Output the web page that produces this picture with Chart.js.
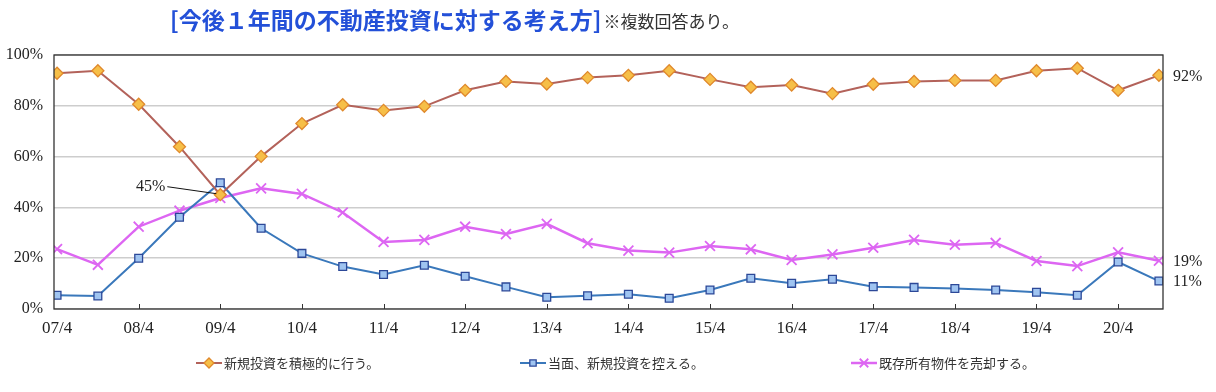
<!DOCTYPE html>
<html><head><meta charset="utf-8">
<script src="https://cdn.jsdelivr.net/npm/chart.js@4"></script>
<style>
html,body{margin:0;padding:0;background:#fff;}
#wrap{position:relative;width:1216px;height:392px;}
canvas{position:absolute;left:0;top:0;}
</style></head>
<body><div id="wrap"><canvas id="c" width="1216" height="392"></canvas></div>
<script>
const periods = ["07/4","07/10","08/4","08/10","09/4","09/10","10/4","10/10","11/4","11/10","12/4","12/10","13/4","13/10","14/4","14/10","15/4","15/10","16/4","16/10","17/4","17/10","18/4","18/10","19/4","19/10","20/4","20/10"];
const tickLabels = ["07/4","08/4","09/4","10/4","11/4","12/4","13/4","14/4","15/4","16/4","17/4","18/4","19/4","20/4"];
const seriesNames = ["新規投資を積極的に行う。","当面、新規投資を控える。","既存所有物件を売却する。"];
const activeInvest = [92.8,93.8,80.6,63.9,45,60.1,73,80.4,78.2,79.8,86.1,89.6,88.6,91.1,92,93.8,90.4,87.3,88.2,84.8,88.5,89.6,90,90,93.8,94.8,86.1,92];
const holdOff = [5.4,5.1,20,36.1,49.7,31.8,21.9,16.7,13.6,17.2,12.9,8.7,4.6,5.2,5.8,4.2,7.5,12.1,10.1,11.7,8.8,8.5,8.1,7.5,6.6,5.4,18.5,11];
const sellOwned = [23.6,17.4,32.4,38.7,43.7,47.5,45.3,38,26.4,27.2,32.4,29.5,33.5,25.9,23,22.2,24.8,23.5,19.3,21.5,24.1,27.2,25.3,26,18.9,16.9,22.3,19];
const yTicks = [0,20,40,60,80,100];
const titleMain = "[今後１年間の不動産投資に対する考え方]";
const titleNote = "※複数回答あり。";
const calloutLabel = "45%";
const endLabels = ["92%","11%","19%"];

const SERIF = '"Liberation Serif","Noto Sans CJK JP",serif';
const JP = '"Noto Sans CJK JP","Liberation Serif",serif';

const styles = [
  {line:'#b3625a', fill:'#f6bf48', border:'#e0892c', ps:'rectRot', r:6, lw:2},
  {line:'#3a78bb', fill:'#9fc4f1', border:'#2c4898', ps:'rect', r:5.5, lw:2},
  {line:'#dd66f2', fill:'#dd66f2', border:'#dd66f2', ps:'crossRot', r:7, lw:2.5}
];
const seriesData = [activeInvest, holdOff, sellOwned];

const datasets = seriesData.map((arr,k)=>({
  label: seriesNames[k],
  data: arr.map((v,i)=>({x:i,y:v})),
  borderColor: styles[k].line,
  borderWidth: styles[k].lw,
  backgroundColor: styles[k].fill,
  pointStyle: styles[k].ps,
  pointRadius: styles[k].r,
  pointBackgroundColor: styles[k].fill,
  pointBorderColor: styles[k].border,
  pointBorderWidth: k===2?1.8:1.3,
  tension: 0
}));

function drawMarker(ctx, k, x, y){
  const s = styles[k];
  ctx.save();
  ctx.strokeStyle = s.line; ctx.lineWidth = s.lw;
  ctx.beginPath(); ctx.moveTo(x-13,y); ctx.lineTo(x+13,y); ctx.stroke();
  ctx.fillStyle = s.fill; ctx.strokeStyle = s.border; ctx.lineWidth = k===2?1.8:1.3;
  Chart.helpers.drawPoint(ctx, {pointStyle:s.ps, radius:s.r-1, borderWidth:k===2?1.8:1.3}, x, y);
  ctx.restore();
}

const overlay = {
  id:'overlay',
  afterDatasetsDraw(chart){
    const ctx = chart.ctx, a = chart.chartArea, xs = chart.scales.x, ys = chart.scales.y;
    ctx.save();
    ctx.strokeStyle = '#333'; ctx.lineWidth = 1.3;
    ctx.strokeRect(a.left, a.top, a.right-a.left, a.bottom-a.top);
    ctx.lineWidth = 1; ctx.strokeStyle = '#333';
    for(let i=2;i<periods.length;i+=2){
      const x = Math.round(xs.getPixelForValue(i))+0.5;
      ctx.beginPath(); ctx.moveTo(x,a.bottom); ctx.lineTo(x,a.bottom-5); ctx.stroke();
    }
    const px = xs.getPixelForValue(4), py = ys.getPixelForValue(activeInvest[4]);
    ctx.font = '16px '+SERIF; ctx.fillStyle = '#222'; ctx.textBaseline='middle'; ctx.textAlign='right';
    ctx.fillText(calloutLabel, px-55, py-8);
    ctx.strokeStyle='#111'; ctx.lineWidth=1;
    ctx.beginPath(); ctx.moveTo(px-53, py-8); ctx.lineTo(px-4, py-1); ctx.stroke();
    ctx.textAlign='left';
    const last = periods.length-1;
    const ends = [activeInvest[last], holdOff[last], sellOwned[last]];
    ends.forEach((v,k)=>{
      ctx.fillText(endLabels[k], a.right+10, ys.getPixelForValue(v)+1);
    });
    ctx.textBaseline='alphabetic';
    ctx.font = 'bold 23px '+JP; ctx.fillStyle='#2350d8'; ctx.textAlign='left';
    ctx.fillText(titleMain, 170, 29);
    const w = ctx.measureText(titleMain).width;
    ctx.font = '17px '+JP; ctx.fillStyle='#333';
    ctx.fillText(titleNote, 170+w+2, 28);
    const legX = [209, 533, 864];
    const legY = 363;
    ctx.font = '13px '+JP; ctx.textBaseline='middle';
    seriesNames.forEach((n,k)=>{
      drawMarker(ctx,k,legX[k],legY);
      ctx.fillStyle='#333';
      ctx.fillText(n, legX[k]+15, legY);
    });
    ctx.restore();
  }
};

new Chart(document.getElementById('c'), {
  type:'line',
  data:{datasets},
  options:{
    responsive:false, animation:false,
    layout:{padding:{top:55,right:53,left:0,bottom:0}},
    plugins:{legend:{display:false}, tooltip:{enabled:false}},
    scales:{
      x:{type:'linear', min:-0.075, max:27.1,
        afterBuildTicks(s){ s.ticks = tickLabels.map((t,i)=>({value:i*2})); },
        afterFit(s){ s.height = 83; },
        grid:{display:false, drawTicks:false},
        border:{display:false},
        ticks:{autoSkip:false, maxRotation:0, padding:9, color:'#222', font:{family:SERIF,size:17},
          callback:(v)=>tickLabels[v/2]}
      },
      y:{min:0,max:100,
        afterBuildTicks(s){ s.ticks = yTicks.map(v=>({value:v})); },
        afterFit(s){ s.width = 54; },
        grid:{color:'#cdcdcd', lineWidth:1.5, drawTicks:false},
        border:{display:false},
        ticks:{padding:11, color:'#222', font:{family:SERIF,size:16}, callback:(v)=>v+'%'}
      }
    }
  },
  plugins:[overlay]
});
</script></body></html>
